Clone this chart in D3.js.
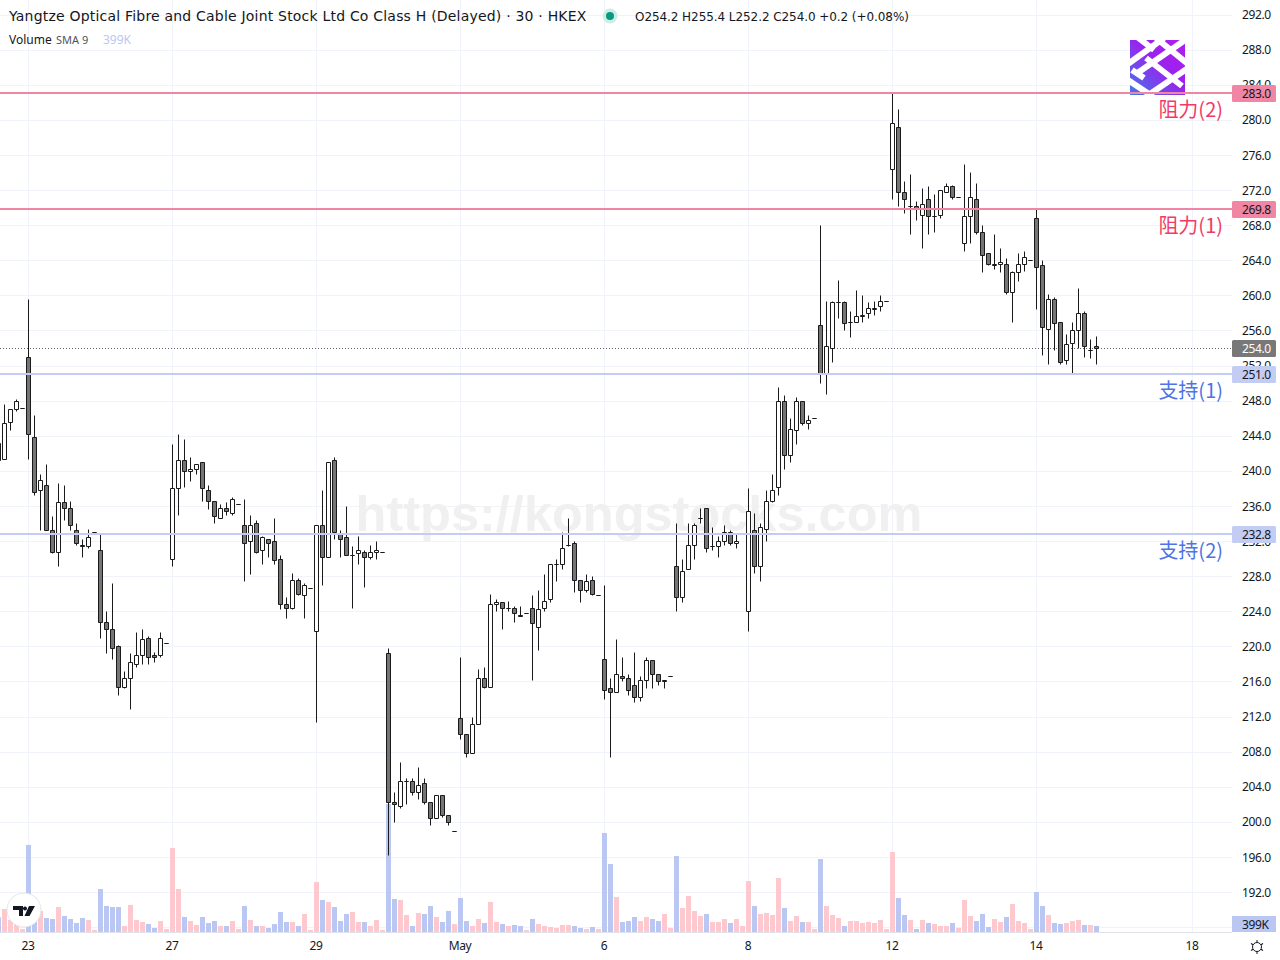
<!DOCTYPE html>
<html>
<head>
<meta charset="utf-8">
<script src="https://cdn.jsdelivr.net/npm/d3@7"></script>
<style>
  html, body { margin: 0; background: #fff; }
  text { font-family: "Noto Sans", sans-serif; }
</style>
</head>
<body>
<div id="chart-container"></div>
<script>
// 30 minute bars
const opens = [243.2,241.4,245.6,247.0,247.2,253.0,243.8,237.8,238.4,233.2,230.8,236.4,235.8,233.2,231.6,231.4,233.0,231.0,222.8,222.0,220.0,215.4,216.4,218.0,219.0,221.0,219.0,219.0,220.4,
  230.0,238.0,241.2,240.0,240.2,241.0,237.8,236.6,234.6,235.8,235.2,236.2,233.8,232.0,234.0,231.0,232.2,232.0,230.0,224.8,224.4,227.6,225.8,226.6,
  221.8,233.8,230.2,241.2,232.8,232.4,230.4,230.6,230.8,230.2,230.8,230.8,219.2,202.2,201.8,204.6,204.6,203.4,204.4,202.2,200.4,203.0,200.8,199.0,
  211.8,210.0,207.8,211.2,216.4,215.4,224.8,225.0,224.4,224.4,223.6,223.8,224.4,222.2,224.4,225.4,229.4,229.4,231.6,231.8,227.6,226.4,227.6,225.8,
  218.6,215.2,214.8,216.6,216.4,215.6,214.2,216.2,218.4,216.8,216.0,216.6,229.2,225.6,228.8,231.6,234.6,235.8,231.4,231.4,232.0,233.0,231.8,232.8,
  224.0,233.2,229.2,233.4,236.6,238.2,248.0,241.8,244.6,248.0,245.4,246.0,256.6,251.2,254.0,259.2,259.2,257.0,257.0,257.6,258.0,258.4,258.8,259.4,
  274.4,279.2,271.8,270.2,270.2,269.2,271.0,269.0,269.2,271.8,272.4,271.2,266.0,269.0,271.0,267.2,264.8,263.4,263.6,263.6,260.4,262.6,263.6,264.0,
  268.8,263.4,256.2,259.6,257.0,252.6,254.6,256.0,258.0,253.8,254.2];
const highs = [243.2,247.6,247.0,248.2,247.2,259.6,246.4,239.6,240.8,234.8,238.6,238.4,236.6,234.0,232.2,233.4,233.0,232.8,224.0,227.2,220.2,217.2,219.2,221.6,222.0,221.2,219.4,221.6,220.4,
  243.0,244.2,243.6,241.6,240.8,241.0,238.4,236.6,236.2,236.4,237.0,236.2,236.8,235.0,234.4,232.6,232.2,234.6,230.4,225.6,228.4,227.8,227.2,226.6,
  233.8,237.8,241.0,241.6,233.2,236.0,231.4,232.6,231.0,231.6,232.0,230.8,219.8,203.4,206.8,205.0,205.0,206.2,205.0,202.2,203.0,203.0,200.8,199.0,
  218.8,210.0,212.0,217.4,217.6,226.0,225.4,225.0,225.2,224.6,224.6,223.8,225.8,226.4,228.2,229.4,230.0,233.0,234.6,232.0,227.6,228.2,228.0,225.8,
  227.0,216.4,220.8,218.8,216.8,219.4,216.6,218.8,218.4,216.8,216.2,216.6,234.0,230.0,234.0,234.0,235.8,235.8,233.6,232.6,233.8,233.2,232.8,232.8,
  238.0,235.2,234.0,237.8,239.6,249.6,248.6,246.0,248.4,248.0,246.4,246.0,268.0,259.4,259.4,261.8,259.4,258.2,260.6,260.0,259.2,259.4,260.0,259.4,
  283.0,281.2,273.0,273.8,270.8,272.2,272.4,271.6,272.0,272.8,272.6,271.2,275.0,274.0,272.8,268.0,264.8,267.0,265.4,264.2,262.8,264.8,265.0,264.0,
  269.8,264.0,260.2,259.8,257.0,255.6,257.0,260.8,258.2,255.0,255.4];
const lows = [241.2,241.4,244.6,246.8,247.2,241.4,237.2,233.2,233.2,230.6,229.2,234.4,233.2,231.6,230.2,231.2,233.0,221.0,219.2,218.6,214.4,215.2,212.8,217.6,218.0,218.0,218.2,218.8,220.4,
  229.2,235.0,238.2,238.8,239.6,236.6,235.6,234.0,234.6,235.0,235.0,236.2,227.4,228.2,230.6,229.4,230.2,229.4,224.2,223.2,224.2,225.8,223.2,226.6,
  211.4,227.0,230.2,232.2,230.2,230.4,224.4,229.4,226.8,230.0,230.0,230.8,196.2,200.0,201.6,202.0,203.0,202.6,202.0,199.6,200.4,200.6,199.6,199.0,
  209.4,207.4,207.8,211.2,215.2,215.4,224.0,222.0,224.0,222.8,223.4,223.8,216.2,219.6,224.0,225.0,227.4,228.8,231.4,226.2,225.0,226.2,225.8,225.8,
  214.0,207.4,214.8,216.0,214.4,213.6,213.8,215.2,215.2,215.6,215.2,216.6,224.0,225.0,228.8,230.0,234.0,230.8,231.0,230.2,231.6,231.6,231.2,232.8,
  221.8,228.4,227.4,232.0,236.4,237.2,240.2,241.0,243.0,245.2,244.8,246.0,250.0,248.8,252.4,257.4,256.0,255.2,257.0,257.0,257.4,257.8,258.2,259.4,
  271.0,270.2,269.4,267.0,268.6,265.4,267.0,267.2,268.8,271.8,271.0,271.2,265.0,266.0,267.0,262.6,263.4,263.0,262.6,260.2,257.0,261.6,262.8,264.0,
  258.4,253.2,252.2,253.8,252.2,252.2,251.2,254.0,253.0,252.8,252.2];
const closes = [241.2,245.4,247.0,248.0,247.2,244.2,237.6,239.0,233.2,230.8,236.4,235.8,233.8,231.8,231.4,232.4,233.0,222.8,222.0,219.8,215.4,216.4,218.2,219.0,220.8,218.8,218.8,221.0,220.4,
  238.0,241.2,240.0,240.2,240.8,238.0,236.6,234.8,235.8,235.4,236.8,236.2,231.8,233.8,230.8,232.4,231.8,229.8,224.8,224.4,227.6,226.0,227.0,226.6,
  233.8,230.2,241.0,233.0,232.2,230.4,230.4,231.0,230.2,230.8,231.0,230.8,202.2,202.0,204.6,204.6,203.4,204.2,202.2,200.4,203.0,200.8,200.0,199.0,
  210.0,207.8,211.2,216.4,215.4,224.8,225.0,224.4,224.4,223.8,223.4,223.8,222.6,224.2,225.2,229.4,229.4,231.2,231.6,227.6,226.4,227.4,226.0,225.8,
  215.0,214.8,216.8,216.4,215.0,214.2,216.2,218.4,216.8,216.0,216.2,216.6,225.6,228.6,231.6,233.8,234.6,231.2,231.4,232.0,233.0,231.8,232.0,232.8,
  235.4,229.2,233.6,236.6,237.8,248.0,241.8,244.8,248.0,245.4,245.8,246.0,251.2,254.2,259.2,259.2,256.8,257.0,257.6,257.8,258.6,258.6,259.4,259.4,
  279.6,271.8,271.0,270.2,269.8,270.4,269.0,269.0,272.0,272.4,271.2,271.2,269.0,271.2,267.2,264.6,263.6,263.6,263.8,260.4,262.6,263.6,264.4,264.0,
  263.2,256.4,259.6,256.8,252.4,254.4,256.0,258.0,254.2,253.8,254.0];
// thousands of shares
const volumes = [975,1530,800,530,200,5790,2280,1400,930,865,1660,1065,865,600,930,800,133,2860,1730,1660,1660,400,1800,800,665,530,266,730,200,
  5590,2860,1000,730,465,1000,600,730,400,400,730,200,1730,800,400,400,266,530,1330,665,665,400,1200,133,
  3325,2130,2000,1660,730,1200,1330,665,665,400,800,133,8512,2195,2130,1130,400,1265,1200,1730,1000,665,1400,530,
  2260,730,400,865,600,2000,665,530,400,465,400,133,865,530,400,333,266,465,465,400,266,200,333,200,
  6585,4520,2330,665,730,1000,730,1000,865,730,1200,266,5055,1600,2395,1400,1065,1200,665,665,865,600,865,400,
  3390,1730,1200,1265,1130,3590,1600,730,1065,665,665,200,4855,1730,1130,930,400,730,730,600,665,600,800,200,
  5320,2260,1130,800,200,800,600,530,400,400,600,266,2130,1065,730,1200,333,865,665,1000,1860,730,600,200,
  2660,1730,1130,600,530,600,730,800,465,465,399];

const priceTicks = d3.range(188, 293, 4);
const dateTickBars = [5, 29, 53, 77, 101, 125, 149, 173, 199];
const dateTickLabels = ["23", "27", "29", "May", "6", "8", "12", "14", "18"];

const resistanceLevels = [283.0, 269.8];
const resistanceNames = ["阻力(2)", "阻力(1)"];
const supportLevels = [251.0, 232.8];
const supportNames = ["支持(1)", "支持(2)"];
const lastClose = 254.0;

const width = 1280, height = 960, paneRight = 1232, paneBottom = 932;

const svg = d3.select("#chart-container").append("svg")
  .attr("width", width)
  .attr("height", height)
  .style("display", "block");

const xScale = d3.scaleLinear().domain([0, 183]).range([-1.5, 1096.5]);
const yScale = d3.scaleLinear().domain([292, 188]).range([15, 927.6]);
const volScale = d3.scaleLinear().domain([0, 6650]).range([paneBottom, paneBottom - 100]);

const snap = (v) => Math.floor(v) + 0.5;

// grid
const grid = svg.append("g").attr("stroke", "#f0f3fa").attr("stroke-width", 1);
grid.selectAll("line.h").data(priceTicks).enter().append("line")
  .attr("x1", 0).attr("x2", paneRight)
  .attr("y1", (d) => snap(yScale(d))).attr("y2", (d) => snap(yScale(d)));
grid.selectAll("line.v").data(dateTickBars).enter().append("line")
  .attr("y1", 0).attr("y2", paneBottom)
  .attr("x1", (d) => snap(xScale(d))).attr("x2", (d) => snap(xScale(d)));

// watermark
svg.append("text")
  .attr("x", 639).attr("y", 531)
  .attr("text-anchor", "middle")
  .style("font-family", "'Liberation Sans', sans-serif")
  .style("font-weight", "bold")
  .style("font-size", "50.5px")
  .attr("fill", "#f0f0f0")
  .text("https://kongstocks.com");

// volume
svg.append("g").selectAll("rect").data(volumes).enter().append("rect")
  .attr("x", (d, i) => Math.floor(xScale(i)) - 2)
  .attr("width", 5)
  .attr("y", (d) => volScale(d))
  .attr("height", (d) => paneBottom - volScale(d))
  .attr("fill", (d, i) => closes[i] < opens[i] ? "#b9c7f2" : "#fdc9ce");

svg.append("line")
  .attr("x1", 0).attr("x2", paneRight)
  .attr("y1", paneBottom + 0.5).attr("y2", paneBottom + 0.5)
  .attr("stroke", "#e0e3eb");

// last price line
svg.append("line")
  .attr("x1", 0).attr("x2", paneRight)
  .attr("y1", snap(yScale(lastClose))).attr("y2", snap(yScale(lastClose)))
  .attr("stroke", "#666").attr("stroke-dasharray", "1 2");

// candles
const candles = svg.append("g").selectAll("g").data(opens).enter().append("g");

candles.append("line")
  .attr("x1", (d, i) => snap(xScale(i))).attr("x2", (d, i) => snap(xScale(i)))
  .attr("y1", (d, i) => snap(yScale(highs[i])))
  .attr("y2", (d, i) => snap(yScale(lows[i])))
  .attr("stroke", "#1a1a1a");

candles.append("path")
  .attr("d", (d, i) => {
    let cx = snap(xScale(i));
    let top = snap(yScale(Math.max(opens[i], closes[i])));
    let bot = snap(yScale(Math.min(opens[i], closes[i])));
    return "M" + (cx - 2) + " " + top + "H" + (cx + 2) + "V" + bot + "H" + (cx - 2) + "Z";
  })
  .attr("fill", (d, i) => closes[i] < opens[i] ? "#757575" : "#fff")
  .attr("stroke", "#1a1a1a");

// price axis
const yAxis = d3.axisRight(yScale).tickValues(priceTicks).tickSize(0).tickPadding(0).tickFormat(d3.format(".1f"));
const yAxisG = svg.append("g").attr("transform", "translate(1242,-0.15)").call(yAxis);
yAxisG.select(".domain").remove();
yAxisG.selectAll("text").style("font-size", "12px").style("letter-spacing", "-0.4px").attr("fill", "#131722");

// date axis
const xAxis = d3.axisBottom(xScale).tickValues(dateTickBars).tickSize(0).tickPadding(0)
  .tickFormat((d) => dateTickLabels[dateTickBars.indexOf(d)]);
const xAxisG = svg.append("g").attr("transform", "translate(-1,941)").call(xAxis);
xAxisG.select(".domain").remove();
xAxisG.selectAll("text").style("font-size", "12px").style("letter-spacing", "-0.4px").attr("fill", "#131722");

// horizontal levels with their tags
function drawLevels(levels, names, lineColor, textColor) {
  const g = svg.append("g");
  g.selectAll("line").data(levels).enter().append("line")
    .attr("x1", 0).attr("x2", paneRight)
    .attr("y1", (d) => Math.floor(yScale(d))).attr("y2", (d) => Math.floor(yScale(d)))
    .attr("stroke", lineColor).attr("stroke-width", 2);
  g.selectAll("rect").data(levels).enter().append("rect")
    .attr("x", paneRight).attr("width", 44)
    .attr("y", (d) => Math.floor(yScale(d)) - 8).attr("height", 17).attr("rx", 1.5)
    .attr("fill", lineColor);
  g.selectAll("text.tag").data(levels).enter().append("text")
    .attr("class", "tag")
    .attr("x", 1242).attr("y", (d) => Math.floor(yScale(d)) + 5)
    .style("font-size", "12px").style("letter-spacing", "-0.4px").attr("fill", "#131722")
    .text((d) => d.toFixed(1));
  g.selectAll("text.name").data(levels).enter().append("text")
    .attr("class", "name")
    .attr("x", 1223).attr("y", (d) => Math.floor(yScale(d)) + 24)
    .attr("text-anchor", "end")
    .style("font-family", "'Noto Sans CJK SC', sans-serif")
    .style("font-size", "20px").attr("fill", textColor)
    .text((d, i) => names[i]);
}
drawLevels(resistanceLevels, resistanceNames, "#f086a3", "#f23a66");
drawLevels(supportLevels, supportNames, "#c3cdf3", "#4f73e3");

// last price tag
svg.append("rect").attr("x", paneRight).attr("width", 44)
  .attr("y", Math.floor(yScale(lastClose)) - 8).attr("height", 17).attr("rx", 1.5).attr("fill", "#787878");
svg.append("text").attr("x", 1242).attr("y", Math.floor(yScale(lastClose)) + 5)
  .style("font-size", "12px").style("letter-spacing", "-0.4px").attr("fill", "#fff").text(lastClose.toFixed(1));

// volume tag
svg.append("rect").attr("x", paneRight).attr("width", 44)
  .attr("y", volScale(399) - 10).attr("height", 16).attr("fill", "#b9c7f2");
svg.append("text").attr("x", 1242).attr("y", volScale(399) + 2.5)
  .style("font-size", "12px").style("letter-spacing", "-0.4px").attr("fill", "#131722").text("399K");

// header
svg.append("text").attr("x", 9).attr("y", 21)
  .style("font-family", "'DejaVu Sans', sans-serif")
  .style("font-size", "14px").style("letter-spacing", "0.2px").attr("fill", "#131722")
  .text("Yangtze Optical Fibre and Cable Joint Stock Ltd Co Class H (Delayed) · 30 · HKEX");
svg.append("circle").attr("cx", 610).attr("cy", 16).attr("r", 7.5).attr("fill", "#cdeee6");
svg.append("circle").attr("cx", 610).attr("cy", 16).attr("r", 4).attr("fill", "#089981");
svg.append("text").attr("x", 635).attr("y", 21)
  .style("font-family", "'DejaVu Sans', sans-serif")
  .style("font-size", "12px").style("letter-spacing", "-0.07px").attr("fill", "#131722")
  .text("O254.2 H255.4 L252.2 C254.0 +0.2 (+0.08%)");
svg.append("text").attr("x", 9).attr("y", 44)
  .style("font-size", "12px").attr("fill", "#131722").text("Volume");
svg.append("text").attr("x", 56).attr("y", 44)
  .style("font-size", "11px").attr("fill", "#50535e").text("SMA 9");
svg.append("text").attr("x", 103).attr("y", 44)
  .style("font-size", "12px").attr("fill", "#b9c7f2").text("399K");

// brand square, top right
const defs = svg.append("defs");
const grad = defs.append("linearGradient").attr("id", "brand")
  .attr("x1", "0").attr("y1", "1").attr("x2", "1").attr("y2", "0");
grad.append("stop").attr("offset", "0").attr("stop-color", "#3f7be8");
grad.append("stop").attr("offset", "0.55").attr("stop-color", "#9a22ee");
grad.append("stop").attr("offset", "1").attr("stop-color", "#b01cf0");
defs.append("clipPath").attr("id", "brand-clip").append("rect").attr("width", 55).attr("height", 55);
const brand = svg.append("g").attr("transform", "translate(1130,40)").attr("clip-path", "url(#brand-clip)");
brand.append("rect").attr("width", 55).attr("height", 55).attr("fill", "url(#brand)");
const brandStrokes = [[-2, 24, 34, -2], [6, 34, 58, -2], [20, 54, 58, 28], [6, -4, 24, 10], [-2, 40, 22, 56], [26, -2, 58, 24], [16, 18, 52, 46], [2, 30, 14, 38]];
brand.selectAll("line").data(brandStrokes).enter().append("line")
  .attr("x1", (d) => d[0]).attr("y1", (d) => d[1]).attr("x2", (d) => d[2]).attr("y2", (d) => d[3])
  .attr("stroke", "#fff").attr("stroke-width", 6);

// redraw the resistance line over the brand square
svg.append("line").attr("x1", 1130).attr("x2", 1185)
  .attr("y1", Math.floor(yScale(283))).attr("y2", Math.floor(yScale(283)))
  .attr("stroke", "#f086a3").attr("stroke-width", 2);

// tradingview badge
svg.append("circle").attr("cx", 24).attr("cy", 910).attr("r", 17)
  .attr("fill", "#fff").attr("stroke", "#e6e6e6").attr("stroke-width", 1);
svg.append("path")
  .attr("d", "M13 906H23V916H19V910H13ZM25 906.5a2 2 0 1 0 0.01 0ZM29 906H35L29.5 916H24.5Z")
  .attr("fill", "#131722");

// settings gear
const gear = svg.append("g").attr("transform", "translate(1257,947)")
  .attr("fill", "none").attr("stroke", "#131722");
gear.append("circle").attr("r", 4.5);
gear.selectAll("line").data(d3.range(0, 360, 60)).enter().append("line")
  .attr("y1", -4.5).attr("y2", -7)
  .attr("transform", (d) => "rotate(" + d + ")");
</script>
</body>
</html>
